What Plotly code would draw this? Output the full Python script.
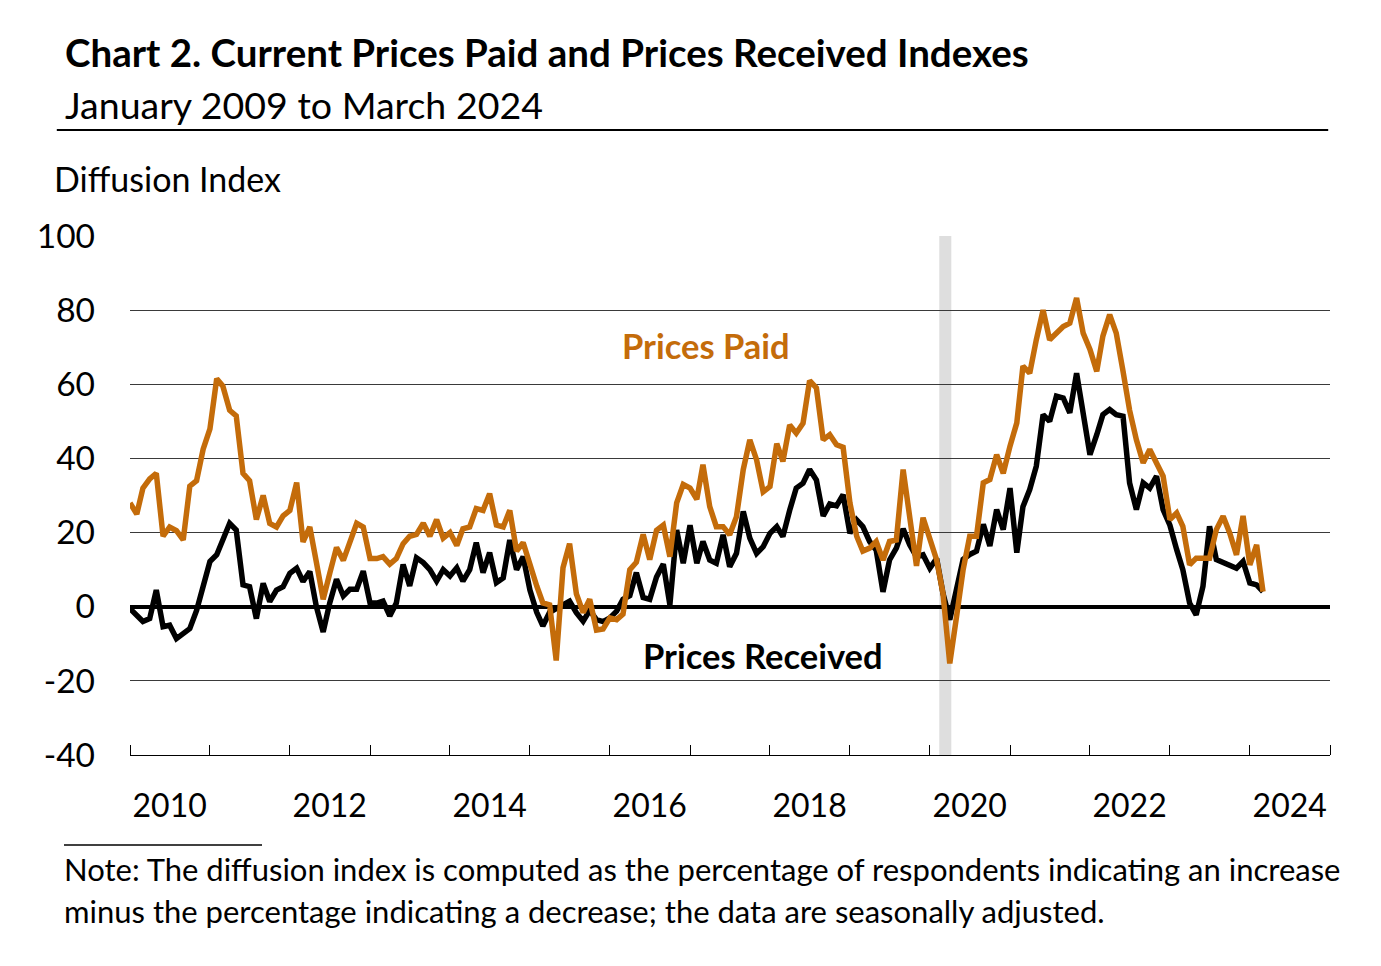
import pandas as pd
import plotly.graph_objects as go

# monthly readings, Jan 2010 - Mar 2024
months = pd.date_range("2010-01-01", periods=171, freq="MS")

prices_paid = [
    28, 25, 32, 34.5, 36, 19, 21.5, 20.5, 18, 32.5, 34, 42.5,            # 2010
    48, 61.5, 59.5, 53, 51.5, 36, 34, 23.5, 30, 22.5, 21.5, 24.5,        # 2011
    26, 33.5, 17.5, 21.5, 12, 2, 9, 16, 12.5, 18, 22.5, 21.5,            # 2012
    13, 13, 13.5, 11.5, 13, 17, 19, 19.5, 22.5, 19, 23.5, 18.5,          # 2013
    20, 16.5, 21, 21.5, 26.5, 26, 30.5, 22, 21.5, 26, 15, 17.3,          # 2014
    11, 5.6, 1, 0.5, -14.5, 10.5, 17, 3.5, -1.6, 2, -6.3, -6,            # 2015
    -3, -3.5, -2, 10, 12, 19.5, 12.7, 20.6, 22, 13.5, 28, 33,            # 2016
    32, 29, 38.3, 27, 21.6, 21.6, 19.4, 24.3, 37, 45, 39.6, 31,          # 2017
    32.4, 44, 39.2, 49, 46.8, 49.5, 61, 59, 45, 46.4, 43.7, 43,          # 2018
    28, 19, 15, 15.8, 17.6, 12.6, 17.6, 18, 37, 24, 11, 24,              # 2019
    18, 12.6, 3.6, -15.3, -3, 10, 19, 19, 33.4, 34.3, 41, 36,            # 2020
    43.3, 49.6, 64.9, 63, 72, 80, 72, 73.8, 75.6, 76.5, 83.3, 73.8,      # 2021
    69.4, 63.5, 73, 78.8, 73.8, 63.5, 53, 45, 38.8, 42.4, 38.8, 35.2,    # 2022
    23.5, 25.3, 21.7, 11.3, 13.1, 13.1, 13.1, 20.8, 24.4, 19.9, 14, 24.5,  # 2023
    11.3, 16.7, 4.1,                                                     # 2024
]

prices_received = [
    -0.5, -2.3, -4, -3.2, 4.5, -5.4, -5, -8.6, -7.2, -5.9, -1, 5.4,      # 2010
    12.2, 14, 18, 22.5, 20.7, 5.9, 5.4, -3.2, 6.3, 1.4, 4.5, 5.4,        # 2011
    9, 10.4, 6.8, 9.5, 0, -6.8, 1, 7.4, 2.9, 4.7, 4.7, 9.6,              # 2012
    1, 1, 1.5, -2.5, 1, 11.4, 5.6, 13.2, 11.9, 10, 6.9, 10,              # 2013
    8.3, 10.5, 6.9, 10, 17.3, 9.2, 14.6, 6.5, 7.8, 18, 10, 13.5,         # 2014
    4.5, -1.5, -5.2, -1.5, -0.5, 0.5, 1.5, -1.6, -3.9, -1, -3.5, -4,     # 2015
    -3, -1.2, 2, 3, 9.2, 2.5, 2, 8, 11.5, 0.5, 20.7, 11.7,               # 2016
    22, 11.7, 17.6, 12.6, 11.7, 19.4, 10.8, 14.4, 25.7, 18.5, 14.4, 16.2,  # 2017
    19.8, 21.6, 18.9, 26, 32, 33.3, 37, 34.2, 24.5, 27.7, 27.2, 30.2,    # 2018
    19.8, 23.4, 21.6, 17.6, 15.3, 4, 12.6, 15.8, 21, 16.7, 13.5, 14,     # 2019
    10.4, 13, 3.6, -3.5, 5, 12.8, 14.1, 15, 22.2, 16.4, 26.2, 20.8,      # 2020
    32, 14.6, 27, 31.6, 37.9, 51.8, 50, 56.8, 56.3, 52.3, 63, 52.3,      # 2021
    41, 46.4, 51.8, 53.2, 51.8, 51.4, 33.4, 26.2, 33.4, 32, 35.2, 26.2,  # 2022
    22, 15.4, 10, 1, -2.2, 5.5, 21.7, 12.7, 11.8, 11.3, 10.4, 12.2,      # 2023
    6.4, 5.9, 4.1,                                                       # 2024
]

label_years = [2010, 2012, 2014, 2016, 2018, 2020, 2022, 2024]
tick_years = list(range(2010, 2026))
y_ticks = [-40, -20, 0, 20, 40, 60, 80, 100]
y_labels = ["-40", "-20", "0", "20", "40", "60", "80", "100"]
recession = ["2020-02-13", "2020-04-08"]

ORANGE = "#C46C0A"
FONT = "Lato"

fig = go.Figure()

fig.add_trace(go.Scatter(x=months, y=prices_received, mode="lines",
                         line=dict(color="black", width=5.5), name="Prices Received"))
fig.add_trace(go.Scatter(x=months, y=prices_paid, mode="lines",
                         line=dict(color=ORANGE, width=5.5), name="Prices Paid"))

# recession shading
fig.add_shape(type="rect", xref="x", yref="paper", x0=recession[0], x1=recession[1],
              y0=0, y1=1, fillcolor="#DEDEDE", line_width=0, layer="below")

# rules under the subtitle and above the note
fig.add_shape(type="line", xref="paper", yref="paper", x0=-0.061, x1=0.9985,
              y0=1.2042, y1=1.2042, line=dict(color="black", width=2))
fig.add_shape(type="line", xref="paper", yref="paper", x0=-0.055, x1=0.11,
              y0=-0.1734, y1=-0.1734, line=dict(color="black", width=1.3))

texts = [
    dict(x=-0.056, y=1.3545, text="<b>Chart 2. Current Prices Paid and Prices Received Indexes</b>", size=38.5),
    dict(x=-0.056, y=1.2543, text="January 2009 to March 2024", size=37.5),
    dict(x=-0.065, y=1.1117, text="Diffusion Index", size=34),
    dict(x=-0.057, y=-0.2197, text="Note: The diffusion index is computed as the percentage of respondents indicating an increase", size=31),
    dict(x=-0.057, y=-0.3006, text="minus the percentage indicating a decrease; the data are seasonally adjusted.", size=31),
]
for t in texts:
    fig.add_annotation(x=t["x"], y=t["y"], xref="paper", yref="paper", text=t["text"],
                       showarrow=False, xanchor="left", yanchor="middle",
                       font=dict(family=FONT, size=t["size"], color="black"))

fig.add_annotation(x="2017-03-15", y=70.4, text="<b>Prices Paid</b>", showarrow=False,
                   font=dict(family=FONT, size=34.5, color=ORANGE))
fig.add_annotation(x="2017-11-28", y=-13.2, text="<b>Prices Received</b>", showarrow=False,
                   font=dict(family=FONT, size=34.5, color="black"))

fig.update_layout(
    width=1381, height=966,
    margin=dict(l=122, r=59, t=228, b=219),
    paper_bgcolor="white", plot_bgcolor="white",
    showlegend=False,
    font=dict(family=FONT, color="black"),
)

fig.update_xaxes(
    range=["2010-01-01", "2025-01-01"],
    tickmode="array",
    tickvals=[f"{y}-07-01" for y in label_years],
    ticktext=[str(y) for y in label_years],
    ticks="", showgrid=False, zeroline=False,
    showline=True, linecolor="black", linewidth=1.3,
    tickfont=dict(family=FONT, size=32, color="black"),
    ticklabelstandoff=22,
    minor=dict(tickmode="array", tickvals=[f"{y}-01-01" for y in tick_years],
               ticks="inside", ticklen=10, tickcolor="black", tickwidth=1.3, showgrid=False),
)

fig.update_yaxes(
    range=[-40, 100],
    tickmode="array", tickvals=y_ticks, ticktext=y_labels,
    showgrid=True, gridcolor="#3a3a3a", gridwidth=1,
    zeroline=True, zerolinecolor="black", zerolinewidth=3.5,
    ticks="", showline=False,
    tickfont=dict(family=FONT, size=33.5, color="black"),
    ticklabelstandoff=34,
)

fig.write_html("out.html")
